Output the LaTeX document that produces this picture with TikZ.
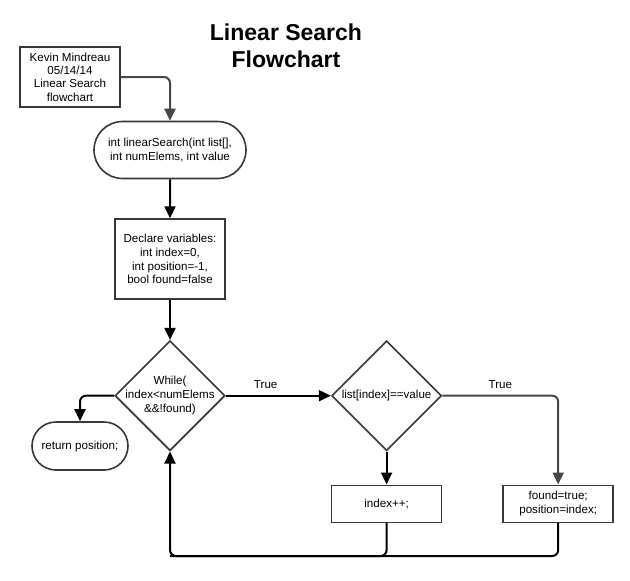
\documentclass[tikz,border=0pt]{standalone}
\usepackage{fontspec}
\setmainfont{Liberation Sans}
\usetikzlibrary{arrows.meta,positioning,shapes.geometric,shapes.misc}

\begin{document}
\begin{tikzpicture}[x=1pt,y=-1pt,>={Triangle[width=11pt,length=12pt]},
    font=\fontsize{11.6}{13.8}\selectfont,node distance=39pt,
    box/.style={draw=black!78,line width=1.6pt,align=center,inner sep=2pt},
    terminal/.style={box,rounded rectangle},
    process/.style={box,rectangle,minimum width=110pt},
    decision/.style={box,diamond,minimum width=110pt,minimum height=110pt,inner sep=0pt},
    flow/.style={->,line width=2pt,rounded corners=6pt},
    grayflow/.style={flow,draw=black!72}]

    \useasboundingbox (0,0) rectangle (630,581);

    \node[font=\fontsize{23}{27}\selectfont\bfseries,align=center] (title) at (286,46) {Linear Search\\Flowchart};

    \node[process,minimum width=100pt,minimum height=60pt,font=\fontsize{11.6}{13.4}\selectfont] (info) at (70,77) {Kevin Mindreau\\05/14/14\\Linear Search\\flowchart};

    \node[terminal,minimum width=156pt,minimum height=57pt] (start) at (170,150) {int linearSearch(int list[],\\int numElems, int value};

    \node[process,minimum height=80pt] (decl) [below=of start] {Declare variables:\\int index=0,\\int position=-1,\\bool found=false};

    \node[decision,label={[align=center]center:While(\\index<numElems\\\&\&!found)}] (loop) [below=40pt of decl] {};

    \node[decision,label={center:list[index]==value}] (check) [right=105pt of loop] {};

    \node[process,minimum height=37pt] (incr) [below=33pt of check] {index++;};

    \node[process,minimum height=37pt] (set) [right=60pt of incr] {found=true;\\position=index;};

    \node[terminal,minimum width=100pt,minimum height=48pt] (ret) at (80,446) {return position;};

    \coordinate (back) at (170,556);

    \draw[grayflow] (info.east) -| (start.north);
    \draw[flow] (start) -- (decl);
    \draw[flow] (decl) -- (loop);
    \draw[flow] (loop) -- node[pos=0.38,above=3pt] {True} (check);
    \draw[flow] (check) -- (incr);
    \draw[grayflow] (check.east) -| node[pos=0.25,above=3pt] {True} (set.north);
    \draw[flow] (loop.west) -| (ret.north);
    \draw[flow] (set.south) |- (back) -- (loop.south);
    \draw[flow,-] (incr.south) |- (back);

\end{tikzpicture}
\end{document}
